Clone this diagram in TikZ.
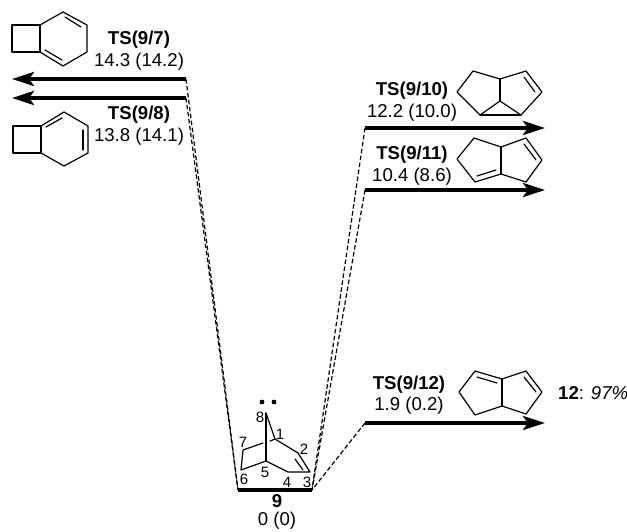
\documentclass[tikz,border=0pt]{standalone}
\usepackage{fontspec}
\setmainfont{Liberation Sans}
\usetikzlibrary{arrows.meta}
\tikzset{
  lvl/.style={line width=3.8pt,-{Stealth[length=22pt,width=14pt,inset=5pt]}},
  barl/.style={line width=3.8pt},
  dsh/.style={line width=1.2pt,dash pattern=on 4.5pt off 2.5pt},
  bond/.style={line width=1.2pt,line join=round,line cap=round},
  lab/.style={font=\fontsize{18.6}{21}\selectfont,inner sep=0pt},
  tsl/.style={font=\fontsize{18.6}{21}\selectfont\bfseries,inner sep=0pt},
  num/.style={font=\fontsize{15}{17}\selectfont,inner sep=0pt},
}
\begin{document}
\begin{tikzpicture}[x=1pt,y=-1pt]
\useasboundingbox (0,0) rectangle (627,531);
% level end points
\coordinate (a7) at (186,79);   \coordinate (a7e) at (12,79);
\coordinate (a8) at (186,98);   \coordinate (a8e) at (12,98);
\coordinate (a10) at (365,128); \coordinate (a10e) at (545,128);
\coordinate (a11) at (365,190); \coordinate (a11e) at (545,190);
\coordinate (a12) at (365,423); \coordinate (a12e) at (545,423);
\coordinate (bl) at (238,490);  \coordinate (br) at (312,490);
% arrows
\draw[barl] (bl) -- (br);
\draw[lvl] (a7) -- (a7e);
\draw[lvl] (a8) -- (a8e);
\draw[lvl] (a10) -- (a10e);
\draw[lvl] (a11) -- (a11e);
\draw[lvl] (a12) -- (a12e);
% dashes
\draw[dsh] (a7) -- (bl);
\draw[dsh] (a8) -- (bl);
\draw[dsh] (a10) -- (br);
\draw[dsh] (a11) -- (br);
\draw[dsh] (a12) -- (br);
% labels
\node[tsl] (t7) at (139,40) {TS(9/7)};
\node[lab] (e7) at (139,62) {14.3 (14.2)};
\node[tsl] (t8) at (139,115) {TS(9/8)};
\node[lab] (e8) at (139,137) {13.8 (14.1)};
\node[tsl] (t10) at (412,91) {TS(9/10)};
\node[lab] (e10) at (412,113) {12.2 (10.0)};
\node[tsl] (t11) at (412,155) {TS(9/11)};
\node[lab] (e11) at (412,177) {10.4 (8.6)};
\node[tsl] (t12) at (409,385) {TS(9/12)};
\node[lab] (e12) at (409,406) {1.9 (0.2)};
\node[lab,anchor=west] (p12) at (558,393) {\textbf{12}: \textit{97\%}};
\node[tsl] (n9) at (277,501) {9};
\node[lab] (e9) at (277,521) {0 (0)};
% 7
\draw[bond] (40,25) -- (12,25) -- (12,52) -- (40,52) -- cycle;
\draw[bond] (40,25) -- (63,12) -- (87,25) -- (87,52) -- (63,66) -- (40,52);
\draw[bond] (65,17) -- (81,27);
\draw[bond] (45,50) -- (62,60);
% 8
\draw[bond] (41,126) -- (13,126) -- (13,153) -- (41,153) -- cycle;
\draw[bond] (41,126) -- (64,112) -- (88,126) -- (88,153) -- (64,166) -- (41,153);
\draw[bond] (46,127) -- (62,118);
\draw[bond] (83,130) -- (83,150);
% 10
\draw[bond] (457,92) -- (473,71) -- (500,79) -- (526,71) -- (542,92) -- (521,115) -- (500,101) -- (480,115) -- cycle;
\draw[bond] (500,79) -- (500,101);
\draw[bond] (480,115) -- (521,115);
\draw[bond] (524,77) -- (535,92);
% 11
\draw[bond] (457,159) -- (474,138) -- (501,147) -- (526,138) -- (542,160) -- (526,182) -- (501,174) -- (475,182) -- cycle;
\draw[bond] (501,147) -- (501,174);
\draw[bond] (477,176) -- (496,170);
\draw[bond] (524,144) -- (536,160);
% 12
\draw[bond] (459,392) -- (475,371) -- (502,379) -- (526,371) -- (542,392) -- (526,414) -- (502,406) -- (475,415) -- cycle;
\draw[bond] (502,379) -- (502,406);
\draw[bond] (477,377) -- (497,383);
\draw[bond] (524,377) -- (536,392);
% 9
\draw[bond] (266,413) -- (266,461);
\draw[bond] (266,413) -- (275,439) -- (298,453) -- (310,472) -- (288,472) -- (266,461) -- (241,470) -- (243,450) -- (263,443);
\draw[bond] (275,439) -- (270,441);
\draw[bond] (295,459) -- (303,470);
\fill (262,402) circle (2.4pt);
\fill (274,402) circle (2.4pt);
\node[num] (l8) at (260,417) {8};
\node[num] (l1) at (280,434) {1};
\node[num] (l2) at (304,449) {2};
\node[num] (l7) at (243,442) {7};
\node[num] (l5) at (265,472) {5};
\node[num] (l6) at (244,479) {6};
\node[num] (l4) at (287,482) {4};
\node[num] (l3) at (307,482) {3};
\end{tikzpicture}
\end{document}
